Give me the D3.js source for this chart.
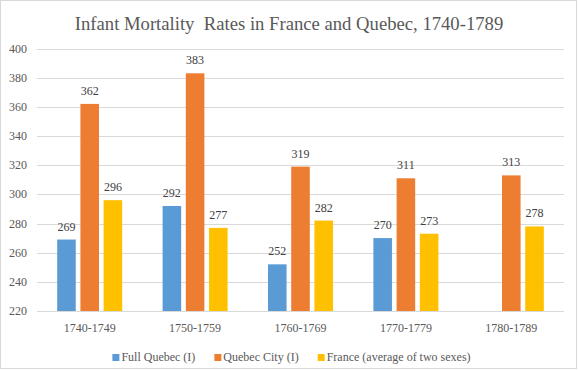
<!DOCTYPE html>
<html>
<head>
<meta charset="utf-8">
<script src="https://cdn.jsdelivr.net/npm/d3@7"></script>
<style>
  body { margin: 0; background: #fff; }
</style>
</head>
<body>
<div class="canvas"></div>
<script>
const categories = ["1740-1749", "1750-1759", "1760-1769", "1770-1779", "1780-1789"];
const seriesNames = ["Full Quebec (I)", "Quebec City (I)", "France (average of two sexes)"];
const fullQuebec = [269, 292, 252, 270, null];
const quebecCity = [362, 383, 319, 311, 313];
const france = [296, 277, 282, 273, 278];
const yTicks = [220, 240, 260, 280, 300, 320, 340, 360, 380, 400];

const colors = ["#5B9BD5", "#ED7D31", "#FFC000"];
const seriesValues = [fullQuebec, quebecCity, france];
const serif = "'Liberation Serif', 'Times New Roman', Times, serif";

const dims = { width: 578, height: 370 };
const plot = { left: 37, right: 564, top: 48.5, bottom: 311 };

const svg = d3
  .select(".canvas")
  .append("svg")
  .attr("width", dims.width)
  .attr("height", dims.height)
  .attr("font-family", serif);

// chart border
svg
  .append("rect")
  .attr("x", 0.5)
  .attr("y", 0.5)
  .attr("width", 576)
  .attr("height", 368)
  .attr("fill", "#fff")
  .attr("stroke", "#d9d9d9");

svg
  .append("text")
  .attr("x", 289)
  .attr("y", 29.5)
  .attr("text-anchor", "middle")
  .attr("fill", "#595959")
  .attr("font-family", serif)
  .attr("font-size", 18.67)
  .style("white-space", "pre")
  .text("Infant Mortality  Rates in France and Quebec, 1740-1789");

const y = d3.scaleLinear().domain([220, 400]).range([plot.bottom, plot.top]);

const x0 = d3.scaleBand().domain(categories).range([plot.left, plot.right]);

const groupWidth = x0.bandwidth() * 0.617;
const x1 = d3
  .scaleBand()
  .domain(d3.range(seriesNames.length))
  .range([0, groupWidth])
  .paddingInner(0.2);

// gridlines
svg
  .append("g")
  .selectAll("line")
  .data(yTicks)
  .join("line")
  .attr("x1", plot.left)
  .attr("x2", plot.right)
  .attr("y1", (d) => Math.round(y(d)) + 0.5)
  .attr("y2", (d) => Math.round(y(d)) + 0.5)
  .attr("stroke", "#d9d9d9");

// y tick labels
svg
  .append("g")
  .selectAll("text")
  .data(yTicks)
  .join("text")
  .attr("x", 27)
  .attr("y", (d) => y(d) + 4)
  .attr("text-anchor", "end")
  .attr("fill", "#595959")
  .attr("font-family", serif)
  .attr("font-size", 12)
  .text((d) => d);

// bars
const rows = [];
categories.forEach((c, i) => {
  seriesValues.forEach((vals, s) => {
    if (vals[i] != null) rows.push({ cat: c, s, value: vals[i] });
  });
});

const groupX = (c) => x0(c) + (x0.bandwidth() - groupWidth) / 2;

svg
  .append("g")
  .selectAll("rect")
  .data(rows)
  .join("rect")
  .attr("x", (d) => groupX(d.cat) + x1(d.s))
  .attr("y", (d) => y(d.value))
  .attr("width", x1.bandwidth())
  .attr("height", (d) => y(220) - y(d.value))
  .attr("fill", (d) => colors[d.s]);

// data labels
svg
  .append("g")
  .selectAll("text")
  .data(rows)
  .join("text")
  .attr("x", (d) => groupX(d.cat) + x1(d.s) + x1.bandwidth() / 2)
  .attr("y", (d) => y(d.value) - 9)
  .attr("text-anchor", "middle")
  .attr("fill", "#404040")
  .attr("font-family", serif)
  .attr("font-size", 12)
  .text((d) => d.value);

// category labels
svg
  .append("g")
  .selectAll("text")
  .data(categories)
  .join("text")
  .attr("x", (d) => x0(d) + x0.bandwidth() / 2)
  .attr("y", 332)
  .attr("text-anchor", "middle")
  .attr("fill", "#595959")
  .attr("font-family", serif)
  .attr("font-size", 12)
  .text((d) => d);

// legend
const legendGroup = svg.append("g");
const items = legendGroup
  .selectAll("g")
  .data(seriesNames)
  .join("g");

items
  .append("rect")
  .attr("width", 7)
  .attr("height", 7)
  .attr("y", -7)
  .attr("fill", (d, i) => colors[i]);

items
  .append("text")
  .attr("x", 9)
  .attr("fill", "#595959")
  .attr("font-family", serif)
  .attr("font-size", 12)
  .text((d) => d);

let lx = 0;
items.each(function () {
  const w = d3.select(this).select("text").node().getComputedTextLength();
  d3.select(this).attr("transform", `translate(${lx},0)`);
  lx += 9 + w + 19;
});
const legendWidth = lx - 19;
legendGroup.attr("transform", `translate(${291.5 - legendWidth / 2}, 361)`);
</script>
</body>
</html>
